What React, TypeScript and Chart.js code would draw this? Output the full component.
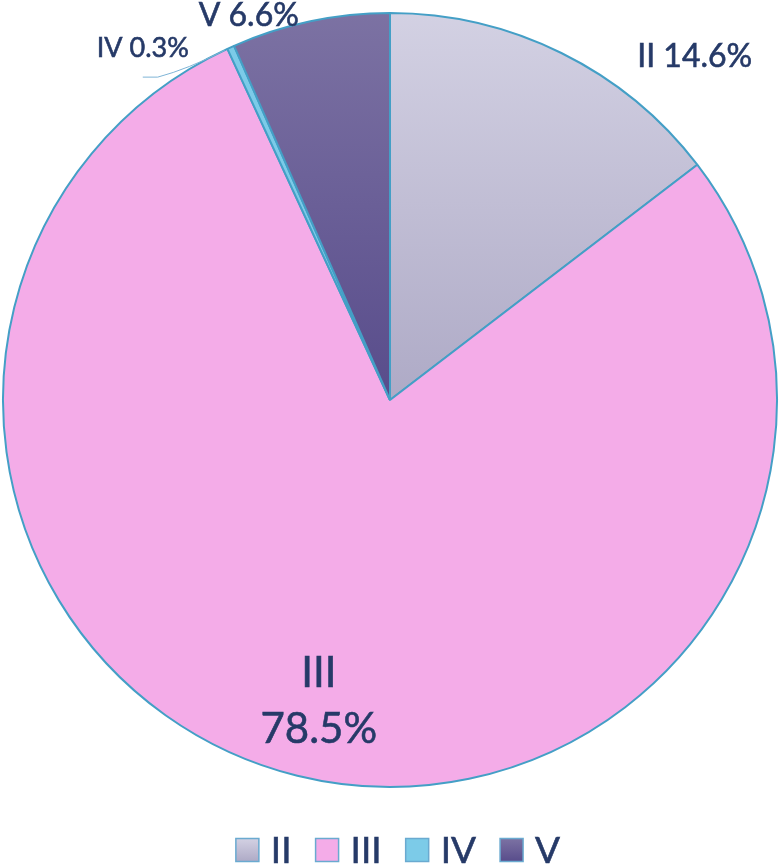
import React, { useEffect, useRef } from "react";
import { Chart, registerables } from "chart.js";

Chart.register(...registerables);

// ---- data ----
const categories = ["II", "III", "IV", "V"];
const shares = [14.6, 78.5, 0.3, 6.6];

// ---- styling ----
const fillTop = ["#d3d1e3", "#f4ace8", "#7ccbe8", "#7c72a3"];
const fillBottom = ["#aeaac6", "#f4ace8", "#7ccbe8", "#584c8b"];
const borderColor = "#449fc6";
const textColor = "#263a68";
const fontFamily = "Lato, 'Open Sans', sans-serif";

// label placement: polar (deg clockwise from top, factor of outer radius), font size, split lines
const labelAngle = [41.6, 193.3, -35.1, -20.2];
const labelDist = [1.186, 0.8, 1.111, 1.057];
const labelSize = [32, 42, 27, 32];
const labelSplit = [false, true, false, false];

function fmt(v: number) {
  return v.toFixed(1) + "%";
}

const W = 780;
const H = 866;

export default function App() {
  const ref = useRef<HTMLCanvasElement | null>(null);

  useEffect(() => {
    document.body.style.margin = "0";
    const canvas = ref.current;
    if (!canvas) return;

    const gradFor = (chart: any, i: number) => {
      const ca = chart.chartArea;
      if (!ca) return fillTop[i];
      const cy = (ca.top + ca.bottom) / 2;
      const g = chart.ctx.createLinearGradient(0, ca.top, 0, cy);
      g.addColorStop(0, fillTop[i]);
      g.addColorStop(1, fillBottom[i]);
      return g;
    };

    const drawText = (ctx: CanvasRenderingContext2D, t: string, x: number, y: number) => {
      ctx.fillText(t, x, y);
      ctx.strokeText(t, x, y);
    };

    const labelPlugin = {
      id: "labelsAndLegend",
      afterDraw(chart: any) {
        const ctx = chart.ctx as CanvasRenderingContext2D;
        const meta = chart.getDatasetMeta(0);
        const a0: any = meta.data[0];
        const cx = a0.x;
        const cy = a0.y;
        const R = a0.outerRadius;
        ctx.save();
        ctx.fillStyle = textColor;
        ctx.textAlign = "center";
        ctx.textBaseline = "middle";
        categories.forEach((c, i) => {
          const ang = (labelAngle[i] * Math.PI) / 180;
          const px = cx + R * labelDist[i] * Math.sin(ang);
          const py = cy - R * labelDist[i] * Math.cos(ang);
          ctx.font = `${labelSize[i]}px ${fontFamily}`;
          ctx.strokeStyle = textColor;
          ctx.lineWidth = 0.6;
          if (labelSplit[i]) {
            const lh = labelSize[i] * 1.34;
            drawText(ctx, c, px, py - lh / 2);
            drawText(ctx, fmt(shares[i]), px, py + lh / 2);
          } else {
            drawText(ctx, c + " " + fmt(shares[i]), px, py);
          }
          // leader line for the tiny slice
          if (shares[i] < 1) {
            const arc: any = meta.data[i];
            const mid = (arc.startAngle + arc.endAngle) / 2;
            const ex = cx + R * Math.cos(mid);
            const ey = cy + R * Math.sin(mid);
            const sy = py + labelSize[i] * 1.07;
            ctx.strokeStyle = "#7fb4d6";
            ctx.lineWidth = 1;
            ctx.beginPath();
            ctx.moveTo(px, sy);
            ctx.lineTo(px + 15, sy);
            ctx.quadraticCurveTo(px + 45, sy - 8, ex - 6, ey + 3);
            ctx.stroke();
          }
        });

        // legend
        const lf = 37;
        ctx.font = `${lf}px ${fontFamily}`;
        const box = 23;
        const gap = 12;
        const spacing = 24;
        const widths = categories.map((c) => box + gap + ctx.measureText(c).width);
        const total = widths.reduce((s, w) => s + w, 0) + spacing * (categories.length - 1);
        let x = (chart.width - total) / 2 + 8;
        const ly = chart.chartArea.bottom + 62;
        ctx.textAlign = "left";
        categories.forEach((c, i) => {
          const g = ctx.createLinearGradient(0, ly - box / 2, 0, ly + box / 2);
          g.addColorStop(0, fillTop[i]);
          g.addColorStop(1, fillBottom[i]);
          ctx.fillStyle = g;
          ctx.fillRect(x, ly - box / 2, box, box);
          ctx.strokeStyle = "#6aaad0";
          ctx.lineWidth = 1.5;
          ctx.strokeRect(x, ly - box / 2, box, box);
          ctx.fillStyle = textColor;
          ctx.strokeStyle = textColor;
          ctx.lineWidth = 0.6;
          drawText(ctx, c, x + box + gap, ly + 1);
          x += widths[i] + spacing;
        });
        ctx.restore();
      },
    };

    const chart = new Chart(canvas, {
      type: "pie",
      data: {
        labels: categories,
        datasets: [
          {
            data: shares,
            backgroundColor: (c: any) => gradFor(c.chart, c.dataIndex),
            borderColor: borderColor,
            borderWidth: 2,
          },
        ],
      },
      options: {
        responsive: false,
        animation: false,
        layout: { padding: { top: 12, bottom: 78, left: 2, right: 2 } },
        plugins: {
          legend: { display: false },
          tooltip: { enabled: false },
        },
      },
      plugins: [labelPlugin],
    } as any);

    return () => chart.destroy();
  }, []);

  return (
    <div style={{ position: "fixed", left: 0, top: 0, width: W, height: H, background: "#fff" }}>
      <canvas ref={ref} width={W} height={H} style={{ display: "block" }} />
    </div>
  );
}
